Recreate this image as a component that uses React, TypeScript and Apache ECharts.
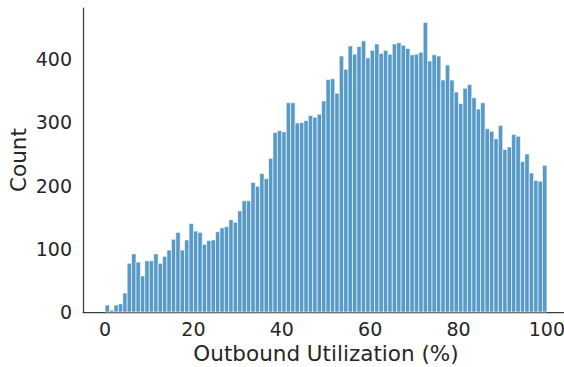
import React, { useEffect, useRef } from "react";
import * as echarts from "echarts";

// Histogram bins: each bin covers [binStarts[i], binStarts[i] + binWidth)
const binWidth = 1;
const binStarts: number[] = Array.from({ length: 100 }, (_, i) => i);
const counts: number[] = [
  11, 3, 11, 13, 30, 77, 92, 79, 57, 81,
  81, 92, 77, 88, 98, 115, 126, 98, 114, 140,
  128, 126, 107, 113, 114, 127, 133, 135, 146, 142,
  160, 176, 176, 205, 199, 219, 211, 243, 284, 287,
  285, 331, 331, 299, 300, 303, 311, 308, 313, 334,
  368, 369, 346, 405, 384, 421, 408, 420, 429, 402,
  414, 424, 409, 414, 408, 424, 426, 422, 417, 407,
  408, 411, 458, 397, 407, 405, 367, 391, 367, 348,
  330, 354, 360, 339, 321, 331, 290, 286, 274, 295,
  257, 261, 281, 278, 238, 250, 220, 208, 207, 232,
];
const xTicks: number[] = [0, 20, 40, 60, 80, 100];
const xTitle = "Outbound Utilization (%)";
const yTitle = "Count";

const FONT = "DejaVu Sans";
const TEXT = "#262626";
const SPINE = "#3a3a3a";

export default function App() {
  const ref = useRef<HTMLDivElement>(null);

  useEffect(() => {
    if (!ref.current) return;
    const chart = echarts.init(ref.current, null, { renderer: "svg" });
    const data = binStarts.map((s, i) => [s, counts[i]]);

    chart.setOption({
      animation: false,
      // the plot area runs a little past the right edge of the canvas
      grid: {
        left: 83,
        right: -5,
        top: 8,
        bottom: 55,
        containLabel: false,
        outerBoundsMode: "none",
      },
      xAxis: {
        type: "value",
        min: -5,
        max: 105,
        name: xTitle,
        nameLocation: "middle",
        nameGap: 30,
        nameTextStyle: { fontFamily: FONT, fontSize: 21.5, color: TEXT },
        axisLine: { show: true, onZero: false, lineStyle: { color: SPINE, width: 1.25 } },
        axisTick: { show: false, customValues: xTicks },
        splitLine: { show: false },
        axisLabel: {
          customValues: xTicks,
          fontFamily: FONT,
          fontSize: 19,
          color: TEXT,
          margin: 7,
        },
      },
      yAxis: {
        type: "value",
        min: 0,
        max: 481,
        interval: 100,
        name: yTitle,
        nameLocation: "middle",
        nameGap: 54,
        nameMoveOverlap: false,
        nameTextStyle: { fontFamily: FONT, fontSize: 21.5, color: TEXT },
        axisLine: { show: true, onZero: false, lineStyle: { color: SPINE, width: 1.25 } },
        axisTick: { show: false },
        splitLine: { show: false },
        axisLabel: {
          fontFamily: FONT,
          fontSize: 19,
          color: TEXT,
          margin: 11,
          showMaxLabel: false,
        },
      },
      series: [
        {
          type: "custom",
          data,
          encode: { x: 0, y: 1 },
          renderItem: (_params: any, api: any) => {
            const x0 = api.value(0);
            const y = api.value(1);
            const topLeft = api.coord([x0, y]);
            const bottomRight = api.coord([x0 + binWidth, 0]);
            return {
              type: "rect",
              shape: {
                x: topLeft[0],
                y: topLeft[1],
                width: bottomRight[0] - topLeft[0],
                height: bottomRight[1] - topLeft[1],
              },
              style: {
                fill: "#5799c7",
                stroke: "rgba(255,255,255,0.75)",
                lineWidth: 0.8,
              },
            };
          },
        },
      ],
    });

    return () => chart.dispose();
  }, []);

  return (
    <div
      ref={ref}
      style={{ position: "absolute", left: 0, top: 0, width: 564, height: 367 }}
    />
  );
}
